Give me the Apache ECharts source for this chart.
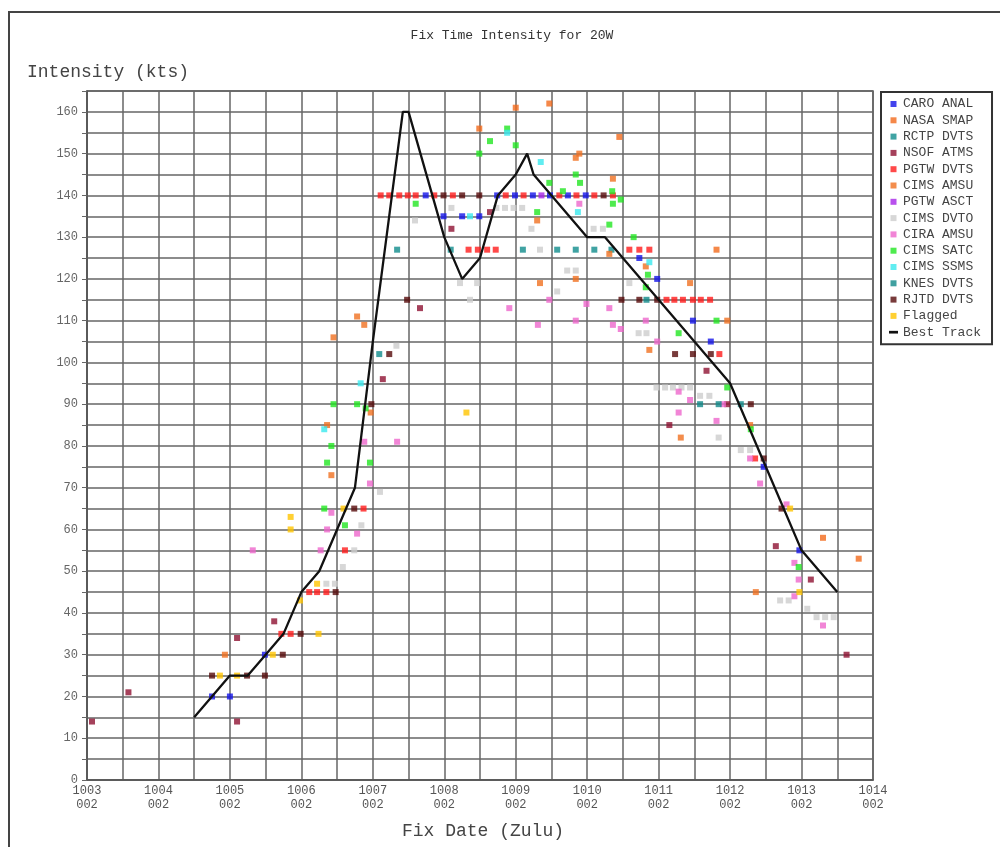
<!DOCTYPE html>
<html><head><meta charset="utf-8">
<script src="https://cdn.jsdelivr.net/npm/echarts@6/dist/echarts.min.js"></script>
<style>html,body{margin:0;padding:0;background:#fff}#c{width:1000px;height:847px}</style>
</head><body><div id="c"></div>
<script>
// x = day of October (fractional), y = intensity (kts)
const caroAnal = [[4.75,20],[5.0,20],[5.49,30],[7.74,140],[7.99,135],[8.25,135],[8.49,135],[8.74,140],[8.99,140],[9.24,140],[9.48,140],[9.73,140],[9.98,140],[10.73,125],[10.98,120],[11.48,110],[11.73,105],[12.47,75],[12.97,55]];
const nasaSmap = [[8.49,156],[9.0,161],[9.47,162],[10.45,154],[11.81,127],[13.3,58],[13.8,53]];
const rctpDvts = [[7.09,102],[7.34,127],[8.09,127],[9.1,127],[9.58,127],[9.84,127],[10.1,127],[10.34,127]];
const nsofAtms = [[3.07,14],[3.58,21],[5.1,34],[5.1,14],[5.62,38],[7.14,96],[7.66,113],[8.1,132],[8.64,136],[11.15,85],[11.67,98],[11.96,90],[12.64,56],[13.13,48],[13.63,30]];
const pgtwDvts = [[5.72,35],[5.85,35],[6.11,45],[6.22,45],[6.35,45],[6.61,55],[6.87,65],[7.11,140],[7.23,140],[7.37,140],[7.49,140],[7.6,140],[7.86,140],[8.12,140],[8.86,140],[9.11,140],[9.61,140],[9.85,140],[10.1,140],[10.36,140],[8.34,127],[8.47,127],[8.6,127],[8.72,127],[10.59,127],[10.73,127],[10.87,127],[11.11,115],[11.22,115],[11.34,115],[11.48,115],[11.59,115],[11.72,115],[11.85,102],[12.35,77]];
const cimsAmsu = [[4.93,30],[6.36,85],[6.42,73],[6.45,106],[6.78,111],[6.88,109],[6.97,88],[9.3,134],[9.34,119],[9.84,120],[9.84,149],[9.89,150],[10.31,126],[10.36,144],[10.82,123],[10.87,103],[11.31,82],[11.44,119],[11.96,110],[12.28,85],[12.36,45]];
const pgtwAsct = [[9.36,140]];
const cimsDvto = [[6.35,47],[6.47,47],[6.58,51],[6.74,55],[6.84,61],[7.1,69],[7.33,104],[7.59,134],[8.1,137],[8.22,119],[8.36,115],[8.46,119],[8.73,137],[8.85,137],[8.97,137],[9.09,137],[9.22,132],[9.34,127],[9.58,117],[9.72,122],[9.84,122],[10.09,132],[10.22,132],[10.59,119],[10.72,107],[10.83,107],[10.97,94],[11.09,94],[11.2,94],[11.32,94],[11.44,94],[11.58,92],[11.71,92],[11.84,82],[12.15,79],[12.28,79],[12.7,43],[12.82,43],[13.08,41],[13.21,39],[13.33,39],[13.45,39]];
const ciraAmsu = [[5.32,55],[6.27,55],[6.36,60],[6.42,64],[6.78,59],[6.88,81],[6.96,71],[7.34,81],[8.91,113],[9.31,109],[9.47,115],[9.84,110],[9.89,138],[9.99,114],[10.31,113],[10.36,109],[10.47,108],[10.82,110],[10.98,105],[11.28,93],[11.28,88],[11.44,91],[11.81,86],[11.9,90],[12.28,77],[12.42,71],[12.79,66],[12.9,52],[12.96,48],[12.9,44],[13.3,37]];
const cimsSatc = [[6.32,65],[6.36,76],[6.42,80],[6.45,90],[6.61,61],[6.78,90],[6.9,89],[6.96,76],[7.6,138],[8.49,150],[8.64,153],[8.88,156],[9.0,152],[9.3,136],[9.47,143],[9.66,141],[9.84,145],[9.9,143],[10.31,133],[10.35,141],[10.36,138],[10.47,139],[10.65,130],[10.82,118],[10.85,121],[11.28,107],[11.81,110],[11.96,94],[12.29,84],[12.96,51]];
const cimsSsms = [[6.32,84],[6.83,95],[8.36,135],[8.88,155],[9.35,148],[9.87,136],[10.87,124]];
const knesDvts = [[10.83,115],[11.58,90],[11.84,90],[12.15,90]];
const rjtdDvts = [[4.75,25],[5.24,25],[5.49,25],[5.74,30],[5.99,35],[6.48,45],[6.74,65],[6.98,90],[7.23,102],[7.48,115],[7.99,140],[8.25,140],[8.49,140],[10.23,140],[10.48,115],[10.73,115],[10.98,115],[11.23,102],[11.48,102],[11.73,102],[12.29,90],[12.47,77],[12.72,65]];
const flagged = [[4.86,25],[5.1,25],[5.6,30],[5.85,60],[5.85,63],[5.98,43],[6.22,47],[6.24,35],[6.59,65],[8.31,88],[12.84,65],[12.97,45]];
const bestTrack = [[4.5,15],[5,25],[5.25,25],[5.5,30],[5.75,35],[6,45],[6.25,50],[6.5,60],[6.75,70],[7,105],[7.42,160],[7.5,160],[8,130],[8.25,120],[8.5,125],[8.75,140],[9,145],[9.16,150],[9.25,145],[10,130],[10.25,130],[11,115],[12,95],[12.5,75],[13,55],[13.5,45]];

const xTickDays = ['1003','1004','1005','1006','1007','1008','1009','1010','1011','1012','1013','1014'];
const xTickHour = '002';

const scatterDefs = [
  ['CARO ANAL', caroAnal, '#1414e8'],
  ['NASA SMAP', nasaSmap, '#f26a1b'],
  ['RCTP DVTS', rctpDvts, '#108c8c'],
  ['NSOF ATMS', nsofAtms, '#8e1232'],
  ['PGTW DVTS', pgtwDvts, '#ff1c1c'],
  ['CIMS AMSU', cimsAmsu, '#f07020'],
  ['PGTW ASCT', pgtwAsct, '#a624e8'],
  ['CIMS DVTO', cimsDvto, '#cdcdcd'],
  ['CIRA AMSU', ciraAmsu, '#ee66cc'],
  ['CIMS SATC', cimsSatc, '#22e622'],
  ['CIMS SSMS', cimsSsms, '#3ae8ee'],
  ['KNES DVTS', knesDvts, '#108888'],
  ['RJTD DVTS', rjtdDvts, '#560a0a'],
  ['Flagged', flagged, '#ffc400']
];

const FONT = 'Liberation Mono';
const series = scatterDefs.map(([name, data, color]) => ({
  name, type: 'scatter', data, symbol: 'rect', symbolSize: 6,
  itemStyle: { color }, z: 3, animation: false
}));
series.push({
  name: 'Best Track', type: 'line', data: bestTrack, showSymbol: false,
  lineStyle: { color: '#111', width: 2.3 }, itemStyle: { color: '#111' }, z: 4, animation: false
});

const legendData = scatterDefs.map(d => ({ name: d[0], icon: 'path://M0,0h6v6h-6z' }));
legendData.push({ name: 'Best Track', icon: 'path://M0,0h10v3h-10z' });

const chart = echarts.init(document.getElementById('c'), null, { renderer: 'canvas' });
chart.setOption({
  backgroundColor: '#fff',
  animation: false,
  title: [
    { text: 'Fix Time Intensity for 20W', left: 507, top: 24, textAlign: 'center',
      textStyle: { fontFamily: FONT, fontSize: 13, fontWeight: 'normal', color: '#333' } },
    { text: 'Intensity (kts)', left: 22, top: 58,
      textStyle: { fontFamily: FONT, fontSize: 18, fontWeight: 'normal', color: '#444' } },
    { text: 'Fix Date (Zulu)', left: 478, top: 817, textAlign: 'center',
      textStyle: { fontFamily: FONT, fontSize: 18, fontWeight: 'normal', color: '#444' } }
  ],
  graphic: [
    { type: 'rect', shape: { x: 9, y: 12, width: 1100, height: 1000 },
      style: { fill: 'none', stroke: '#444', lineWidth: 2 }, silent: true }
  ],
  grid: { left: 87, right: 127, top: 91, bottom: 67, show: true, borderColor: '#555', borderWidth: 1.5, backgroundColor: '#fff' },
  legend: {
    orient: 'vertical', left: 881, top: 92, data: legendData,
    itemWidth: 9, itemHeight: 6, itemGap: 2.3, padding: [5, 11, 5, 8],
    borderColor: '#333', borderWidth: 2, backgroundColor: '#fff',
    textStyle: { fontFamily: FONT, fontSize: 13, color: '#444', lineHeight: 14 },
    selectedMode: false
  },
  xAxis: {
    type: 'value', min: 3, max: 14, interval: 0.5,
    axisLine: { lineStyle: { color: '#555', width: 1.5 } },
    axisTick: { show: false },
    axisLabel: {
      fontFamily: FONT, fontSize: 12, color: '#555', lineHeight: 14, margin: 4,
      formatter: v => Number.isInteger(v) ? xTickDays[v - 3] + '\n' + xTickHour : ''
    },
    splitLine: { show: true, lineStyle: { color: '#666', width: 1.5 } }
  },
  yAxis: {
    type: 'value', min: 0, max: 165, interval: 5,
    axisLine: { show: true, lineStyle: { color: '#555', width: 1.5 } },
    axisTick: { show: true, length: 5, lineStyle: { color: '#666' } },
    axisLabel: {
      fontFamily: FONT, fontSize: 12, color: '#666', margin: 9,
      formatter: v => (v % 10 === 0) ? String(v) : ''
    },
    splitLine: { show: true, lineStyle: { color: '#666', width: 1.5 } }
  },
  series
});
</script></body></html>
